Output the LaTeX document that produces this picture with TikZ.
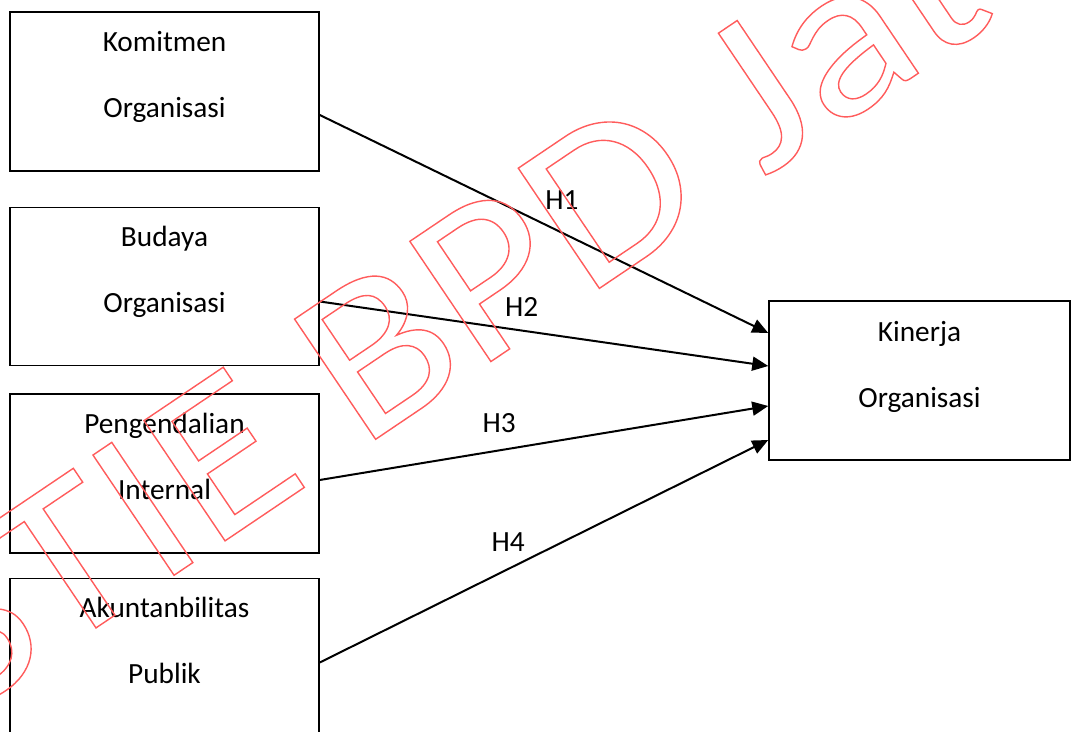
\documentclass[tikz,border=0pt]{standalone}
\usepackage{fontspec}
\setmainfont{Carlito}
\newfontfamily\wmfont[FakeStretch=1.128]{Carlito}
\usetikzlibrary{positioning, arrows.meta, calc}
\definecolor{wmred}{RGB}{255,92,92}
\newcommand\outlinetext[1]{\special{pdf:literal direct 1 Tr 1.4 w}#1\special{pdf:literal direct 0 Tr}}
\tikzset{
  varbox/.style={rectangle, draw=black, line width=1.5pt, minimum width=309pt, minimum height=159pt},
  boxtext/.style={align=center, font=\fontsize{29.3}{66}\selectfont, inner sep=0pt},
  hlabel/.style={font=\fontsize{29.3}{35}\selectfont, inner sep=0pt},
  arrow/.style={line width=2pt, -{Triangle[length=16pt, width=14pt]}},
  watermark/.style={text=wmred, font=\wmfont\fontsize{226}{226}\selectfont, inner sep=0pt}
}

\begin{document}
\begin{tikzpicture}
    \useasboundingbox (0,0) rectangle (1071pt,731pt);

    % --- Kotak variabel ---
    \node (komitmen) [varbox] at (164.5pt,639.5pt) {};
    \node (budaya) [varbox, minimum height=158pt, below=35pt of komitmen] {};
    \node (pengendalian) [varbox, below=27pt of budaya] {};
    \node (akuntan) [varbox, below=24pt of pengendalian] {};
    \node (kinerja) [varbox, minimum width=301pt] at (919.5pt,350.5pt) {};

    % --- Teks (base = baris terakhir) ---
    \node (komitmen-t) [boxtext, anchor=base] at ([yshift=-106pt]komitmen.north) {Komitmen\\Organisasi};
    \node (budaya-t) [boxtext, anchor=base] at ([yshift=-106pt]budaya.north) {Budaya\\Organisasi};
    \node (pengendalian-t) [boxtext, anchor=base] at ([yshift=-106pt]pengendalian.north) {Pengendalian\\Internal};
    \node (akuntan-t) [boxtext, anchor=base] at ([yshift=-106pt]akuntan.north) {Akuntanbilitas\\Publik};
    \node (kinerja-t) [boxtext, anchor=base] at ([yshift=-107pt]kinerja.north) {Kinerja\\Organisasi};

    % --- Hipotesis ---
    \draw [arrow] ([yshift=-23.5pt]komitmen.east) -- node[hlabel, pos=0.54, above=22pt] {H1} ([yshift=47.5pt]kinerja.west);
    \draw [arrow] ([yshift=-15pt]budaya.east) -- node[hlabel, pos=0.45, above=13.5pt] {H2} ([yshift=14.5pt]kinerja.west);
    \draw [arrow] ([yshift=-6.5pt]pengendalian.east) -- node[hlabel, pos=0.4, above=16.5pt] {H3} ([yshift=-25.5pt]kinerja.west);
    \draw [arrow] ([yshift=-4.5pt]akuntan.east) -- node[hlabel, pos=0.42, above=16.5pt] {H4} ([yshift=-59.5pt]kinerja.west);

    % --- Watermark ---
    \node (stie) [watermark, rotate=34, anchor=base west] at (-42pt,10pt) {\outlinetext{STIE BPD Jateng}};
\end{tikzpicture}
\end{document}
